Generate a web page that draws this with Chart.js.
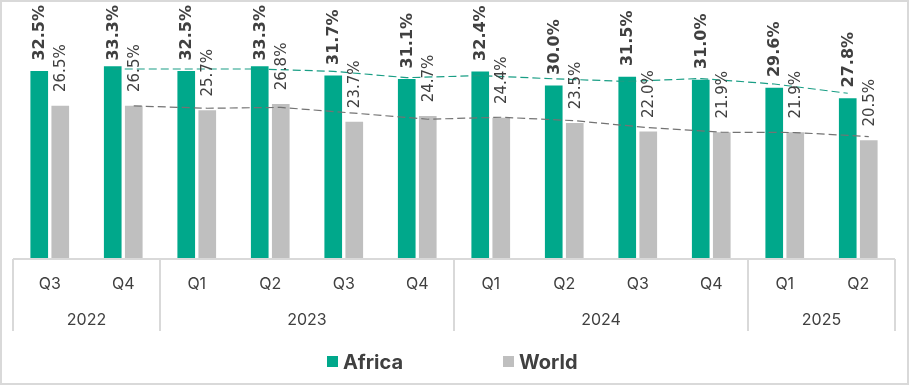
<!DOCTYPE html>
<html>
<head>
<meta charset="utf-8">
<script src="https://cdn.jsdelivr.net/npm/chart.js@4"></script>
<style>
  body { margin: 0; background: #fff; }
</style>
</head>
<body>
<canvas id="c" width="909" height="385"></canvas>
<script>
const quarters = ["Q3", "Q4", "Q1", "Q2", "Q3", "Q4", "Q1", "Q2", "Q3", "Q4", "Q1", "Q2"];
const years = ["2022", "2023", "2024", "2025"];
const yearSpans = [2, 4, 4, 2];
const africa = [32.5, 33.3, 32.5, 33.3, 31.7, 31.1, 32.4, 30.0, 31.5, 31.0, 29.6, 27.8];
const world = [26.5, 26.5, 25.7, 26.8, 23.7, 24.7, 24.4, 23.5, 22.0, 21.9, 21.9, 20.5];
// dashed 2-period moving average trendlines (as shown in the picture)
const africaTrend = [null, 32.9, 32.9, 32.9, 32.5, 31.4, 31.75, 31.2, 30.75, 31.25, 30.3, 28.7];
const worldTrend = [null, 26.5, 26.1, 26.25, 25.25, 24.2, 24.55, 23.95, 22.75, 21.95, 21.9, 21.2];

const GREEN = '#00a88b';
const GREY = '#bfbfbf';
const TEXT = '#404040';
const LINE = '#d9d9d9';

// each series sits a little left/right of its quarter's centre
const shift = 0.143;
const toPoints = (arr, dx) => arr.map((v, i) => v === null ? null : { x: i + dx, y: v }).filter(p => p);

const framePlugin = {
    id: 'frame',
    beforeDraw(chart) {
        const c = chart.ctx;
        c.save();
        c.fillStyle = '#fff';
        c.fillRect(0, 0, chart.width, chart.height);
        c.strokeStyle = LINE;
        c.lineWidth = 2;
        c.strokeRect(1, 1, chart.width - 2, chart.height - 2);
        c.restore();
    },
    afterDraw(chart) {
        const c = chart.ctx;
        const area = chart.chartArea;
        const w = (area.right - area.left) / quarters.length;
        c.save();
        // axis line + group separators
        c.strokeStyle = LINE;
        c.lineWidth = 2;
        c.beginPath();
        c.moveTo(area.left, area.bottom);
        c.lineTo(area.right, area.bottom);
        let k = 0;
        const bounds = [0];
        yearSpans.forEach(s => { k += s; bounds.push(k); });
        bounds.forEach(b => {
            const x = area.left + b * w;
            c.moveTo(x, area.bottom);
            c.lineTo(x, area.bottom + 72);
        });
        c.stroke();
        // quarter and year labels
        c.fillStyle = TEXT;
        c.textAlign = 'center';
        c.textBaseline = 'middle';
        c.font = '16px Inter';
        quarters.forEach((q, i) => {
            c.fillText(q, area.left + (i + 0.5) * w, area.bottom + 25);
        });
        let start = 0;
        years.forEach((y, i) => {
            const mid = start + yearSpans[i] / 2;
            c.fillText(y, area.left + mid * w, area.bottom + 61);
            start += yearSpans[i];
        });
        // legend
        const items = [{ label: 'Africa', color: GREEN }, { label: 'World', color: GREY }];
        c.font = 'bold 20px Inter';
        c.textAlign = 'left';
        const ly = 362;
        let lx = 327;
        items.forEach(it => {
            c.fillStyle = it.color;
            c.fillRect(lx, ly - 6, 11, 11);
            c.fillStyle = TEXT;
            c.fillText(it.label, lx + 16, ly + 1);
            lx += 176;
        });
        c.restore();
    }
};

const labelPlugin = {
    id: 'barLabels',
    afterDatasetsDraw(chart) {
        const c = chart.ctx;
        c.save();
        [0, 1].forEach(di => {
            const ds = chart.data.datasets[di];
            const meta = chart.getDatasetMeta(di);
            const bold = di === 0;
            c.font = bold ? 'bold 16px "DejaVu Sans"' : '15px "DejaVu Sans"';
            c.fillStyle = TEXT;
            c.textAlign = 'left';
            c.textBaseline = 'middle';
            const gap = bold ? 11 : 14;
            meta.data.forEach((bar, i) => {
                const txt = ds.data[i].y.toFixed(1) + '%';
                const len = c.measureText(txt).width;
                let bottom = bar.y - gap;
                if (bottom - len < 5) bottom = 5 + len;
                c.save();
                c.translate(bar.x + 1, bottom);
                c.rotate(-Math.PI / 2);
                c.fillText(txt, 0, 0);
                c.restore();
            });
        });
        c.restore();
    }
};

new Chart(document.getElementById('c'), {
    type: 'bar',
    data: {
        datasets: [
            { label: 'Africa', data: toPoints(africa, -shift), backgroundColor: GREEN, order: 1 },
            { label: 'World', data: toPoints(world, shift), backgroundColor: GREY, order: 1 },
            {
                type: 'line', label: 'Africa trend', data: toPoints(africaTrend, -shift),
                borderColor: '#1a9e85', borderWidth: 1.2, borderDash: [8, 4], pointRadius: 0,
                tension: 0, fill: false, order: 0
            },
            {
                type: 'line', label: 'World trend', data: toPoints(worldTrend, shift),
                borderColor: '#737373', borderWidth: 1.2, borderDash: [8, 4], pointRadius: 0,
                tension: 0, fill: false, order: 0
            }
        ]
    },
    options: {
        responsive: false,
        animation: false,
        devicePixelRatio: 1,
        layout: { padding: { left: 13, right: 14, top: 28, bottom: 126 } },
        datasets: { bar: { grouped: false, barThickness: 17 } },
        plugins: { legend: { display: false }, tooltip: { enabled: false } },
        scales: {
            x: { type: 'linear', display: false, offset: false, min: -0.5, max: 11.5 },
            y: { display: false, min: 0, max: 40 }
        }
    },
    plugins: [framePlugin, labelPlugin]
});
</script>
</body>
</html>
